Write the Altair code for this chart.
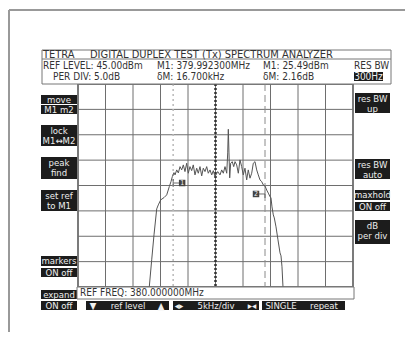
import altair as alt
import pandas as pd

# ---------------- data ----------------
# frequency offset from REF FREQ 380.000000 MHz in kHz, level in dBm
trace_khz = [-12.04, -11.60, -11.18, -10.69, -10.40, -9.96, -9.36, -8.87, -8.40, -8.09,
             -7.85, -7.55, -7.36, -7.05, -6.76, -6.45, -6.15, -5.85, -5.55, -5.24,
             -4.95, -4.64, -4.33, -4.04, -3.73, -3.42, -3.13, -2.82, -2.51, -2.22,
             -1.91, -1.60, -1.31, -1.00, -0.69, -0.40, -0.09, 0.40, 0.82, 1.13,
             1.42, 1.73, 2.04, 2.22, 2.33, 2.45, 2.58, 2.76, 3.05, 3.31,
             3.55, 3.85, 4.15, 4.45, 4.76, 5.05, 5.36, 5.67, 5.96, 6.27,
             6.58, 6.87, 7.18, 7.49, 7.78, 8.09, 8.40, 8.69, 9.00, 9.31,
             9.60, 9.91, 10.09, 10.27, 10.51, 10.69, 11.00, 11.36, 11.73, 11.91,
             12.09, 12.27]
trace_dbm = [5.0, 10.35, 15.28, 20.39, 21.18, 22.17, 22.62, 23.15, 24.78, 25.77,
             26.75, 27.54, 27.09, 28.07, 27.48, 28.72, 28.07, 29.06, 27.74, 29.39,
             27.42, 28.72, 27.93, 29.06, 27.09, 28.41, 27.42, 28.72, 26.89, 28.41,
             27.74, 28.72, 27.42, 28.07, 27.09, 27.93, 26.75, 27.74, 27.09, 28.07,
             27.42, 28.72, 27.42, 31.42, 36.08, 31.42, 26.50, 29.39, 29.70, 28.72,
             29.70, 29.06, 27.42, 30.04, 28.72, 27.09, 28.41, 26.10, 28.07, 26.44,
             27.42, 29.39, 29.70, 28.07, 27.09, 26.10, 25.77, 25.12, 24.90, 24.10,
             23.50, 22.80, 22.56, 20.79, 19.21, 18.62, 16.85, 14.29, 11.73, 11.14,
             8.98, 5.0]

grid_khz = [-25, -20, -15, -10, -5, 0, 5, 10, 15, 20, 25]
grid_dbm = [5, 10, 15, 20, 25, 30, 35, 40, 45]

marker_names = ["1", "2"]
marker_khz = [-7.7, 9.0]
marker_dbm = [25.49, 23.33]

header_title = ["TETRA", "DIGITAL DUPLEX TEST (Tx) SPECTRUM ANALYZER"]
header_row1 = ["REF LEVEL: 45.00dBm", "M1: 379.992300MHz", "M1: 25.49dBm", "RES BW"]
header_row2 = ["PER DIV: 5.0dB", "δM: 16.700kHz", "δM: 2.16dB", "300Hz"]
left_buttons = [["move"], ["M1 m2"], ["lock", "M1↔M2"], ["peak", "find"],
                ["set ref", "to M1"], ["markers"], ["ON off"], ["expand"], ["ON off"]]
right_buttons = [["res BW", "up"], ["res BW", "auto"], ["maxhold"], ["ON off"],
                 ["dB", "per div"]]
bottom_buttons = [["▼", "ref level", "▲"], ["◂▸", "5kHz/div", "▸◂"], ["SINGLE", "repeat"]]
ref_freq_text = "REF FREQ: 380.000000MHz"

# ---------------- layout helpers ----------------
FONT = "Liberation Sans Narrow, DejaVu Sans Condensed, Liberation Sans, sans-serif"
OX, OY = 78, 84          # page position of the plot origin
W, H = 275, 203          # plot area (grid)
one = alt.Data(values=[{"k": 0}])


def px(X):
    return X - OX


def py(Y):
    return Y - OY


def rect(x1, y1, x2, y2, fill="#1c1c1c", stroke=None, sw=1):
    kw = dict(fill=fill)
    if stroke:
        kw.update(stroke=stroke, strokeWidth=sw)
    return alt.Chart(one).mark_rect(**kw).encode(
        x=alt.value(px(x1)), x2=alt.value(px(x2)),
        y=alt.value(py(y1)), y2=alt.value(py(y2)))


def hline(x1, x2, y, color="#777", w=1):
    return alt.Chart(one).mark_rule(color=color, strokeWidth=w).encode(
        x=alt.value(px(x1)), x2=alt.value(px(x2)), y=alt.value(py(y)))


def vline(x, y1, y2, color="#777", w=1):
    return alt.Chart(one).mark_rule(color=color, strokeWidth=w).encode(
        x=alt.value(px(x)), y=alt.value(py(y1)), y2=alt.value(py(y2)))


def text(s, x, y, align="left", color="#333", size=10):
    return alt.Chart(one).mark_text(
        text=s, align=align, baseline="middle", font=FONT, fontSize=size,
        color=color).encode(x=alt.value(px(x)), y=alt.value(py(y)))


layers = []

# outer frame (left and top edges)
layers.append(vline(9, 10, 345, "#999", 2))
layers.append(hline(9, 413, 10, "#999", 2))

# header box
layers.append(rect(42, 50, 391, 84, fill="white", stroke="#777"))
layers.append(hline(42, 391, 59, "#777", 1))
layers.append(text(header_title[0], 43, 55, size=11))
layers.append(text(header_title[1], 90, 55, size=11))
for s, x in zip(header_row1, [43, 157, 263, 354]):
    layers.append(text(s, x, 66))
for s, x in zip(header_row2[:3], [53, 157, 263]):
    layers.append(text(s, x, 76.5))
layers.append(rect(354, 72, 383, 81))
layers.append(text(header_row2[3], 368.5, 76.5, align="center", color="#eee"))

BTN = 9.5
# left soft buttons
left_boxes = [(95, 104), (105, 114), (125, 146), (157, 179), (190, 211),
              (256, 266), (268, 277), (290, 299), (301, 310)]
for (y1, y2), labels in zip(left_boxes, left_buttons):
    layers.append(rect(41, y1, 77, y2))
    n = len(labels)
    for i, s in enumerate(labels):
        yc = (y1 + y2) / 2 if n == 1 else y1 + 5.5 + i * 10.5
        layers.append(text(s, 59, yc, align="center", color="#eee", size=BTN))

# right soft buttons
right_boxes = [(93, 113), (159, 179), (190, 200), (202, 211), (220, 244)]
for (y1, y2), labels in zip(right_boxes, right_buttons):
    layers.append(rect(355, y1, 390, y2))
    n = len(labels)
    for i, s in enumerate(labels):
        yc = (y1 + y2) / 2 if n == 1 else y1 + 5.5 + i * 10.5
        layers.append(text(s, 372.5, yc, align="center", color="#eee", size=BTN))

# bottom soft buttons
bottom_boxes = [(86, 169), (173, 259), (262, 345)]
bottom_xs = [[93, 128, 161], [179, 216, 252], [281, 324]]
for (x1, x2), labels, xs_ in zip(bottom_boxes, bottom_buttons, bottom_xs):
    layers.append(rect(x1, 301, x2, 310))
    for s, xc in zip(labels, xs_):
        layers.append(text(s, xc, 305.5, align="center", color="#eee", size=BTN))

# REF FREQ strip under the grid
layers.append(rect(77, 287, 354, 299, fill="white", stroke="#777"))
layers.append(text(ref_freq_text, 80, 293))

# ---------------- spectrum (through the scales) ----------------
xs = alt.Scale(domain=[-25, 25], nice=False, zero=False)
ys = alt.Scale(domain=[5, 45], nice=False, zero=False)

trace_df = pd.DataFrame({"khz": trace_khz, "dbm": trace_dbm})
mk_df = pd.DataFrame({"name": marker_names, "khz": marker_khz, "dbm": marker_dbm})

vgrid = alt.Chart(pd.DataFrame({"khz": grid_khz})).mark_rule(
    color="#6e6e6e", strokeWidth=1).encode(x=alt.X("khz:Q", scale=xs, axis=None))
hgrid = alt.Chart(pd.DataFrame({"dbm": grid_dbm})).mark_rule(
    color="#6e6e6e", strokeWidth=1).encode(y=alt.Y("dbm:Q", scale=ys, axis=None))

m1_rule = alt.Chart(mk_df.iloc[[0]]).mark_rule(
    color="#b8b8b8", strokeWidth=1.5, strokeDash=[2, 3]).encode(
    x=alt.X("khz:Q", scale=xs, axis=None))
center_rule = alt.Chart(pd.DataFrame({"khz": [0.0]})).mark_rule(
    color="#333", strokeWidth=2.5, strokeDash=[2, 2]).encode(
    x=alt.X("khz:Q", scale=xs, axis=None))
m2_rule = alt.Chart(mk_df.iloc[[1]]).mark_rule(
    color="#8a8a8a", strokeWidth=1, strokeDash=[7, 4]).encode(
    x=alt.X("khz:Q", scale=xs, axis=None))

trace = alt.Chart(trace_df).mark_line(color="#555", strokeWidth=1).encode(
    x=alt.X("khz:Q", scale=xs, axis=None), y=alt.Y("dbm:Q", scale=ys, axis=None),
    order="khz:Q")

enc = dict(x=alt.X("khz:Q", scale=xs, axis=None), y=alt.Y("dbm:Q", scale=ys, axis=None))
m1_glyph = alt.Chart(mk_df.iloc[[0]]).mark_point(
    shape="M0,-0.8L0,0.8M0,0L1.2,0", filled=False, stroke="#333",
    strokeWidth=1, size=100).encode(**enc)
m1_box = alt.Chart(mk_df.iloc[[0]]).mark_square(
    xOffset=9, size=42, color="#444", opacity=1).encode(**enc)
m1_lab = alt.Chart(mk_df.iloc[[0]]).mark_text(
    dx=9, fontSize=7, font=FONT, color="#eee", baseline="middle").encode(
    text="name:N", **enc)
m2_glyph = alt.Chart(mk_df.iloc[[1]]).mark_point(
    shape="M0,-0.8L0,0.8M0,0L-1.2,0", filled=False, stroke="#333",
    strokeWidth=1, size=100).encode(**enc)
m2_box = alt.Chart(mk_df.iloc[[1]]).mark_square(
    xOffset=-9, size=42, color="#444", opacity=1).encode(**enc)
m2_lab = alt.Chart(mk_df.iloc[[1]]).mark_text(
    dx=-9, fontSize=7, font=FONT, color="#eee", baseline="middle").encode(
    text="name:N", **enc)

chart = alt.layer(
    vgrid, hgrid, m1_rule, center_rule, m2_rule, trace,
    m1_glyph, m1_box, m1_lab, m2_glyph, m2_box, m2_lab,
    *layers
).properties(
    width=W, height=H,
    autosize=alt.AutoSizeParams(type="none"),
    padding={"left": 70, "top": 76, "right": 52, "bottom": 45},
).configure_view(stroke="#888", strokeWidth=2)

chart.save("out.html", embed_options={"renderer": "svg", "actions": False})
